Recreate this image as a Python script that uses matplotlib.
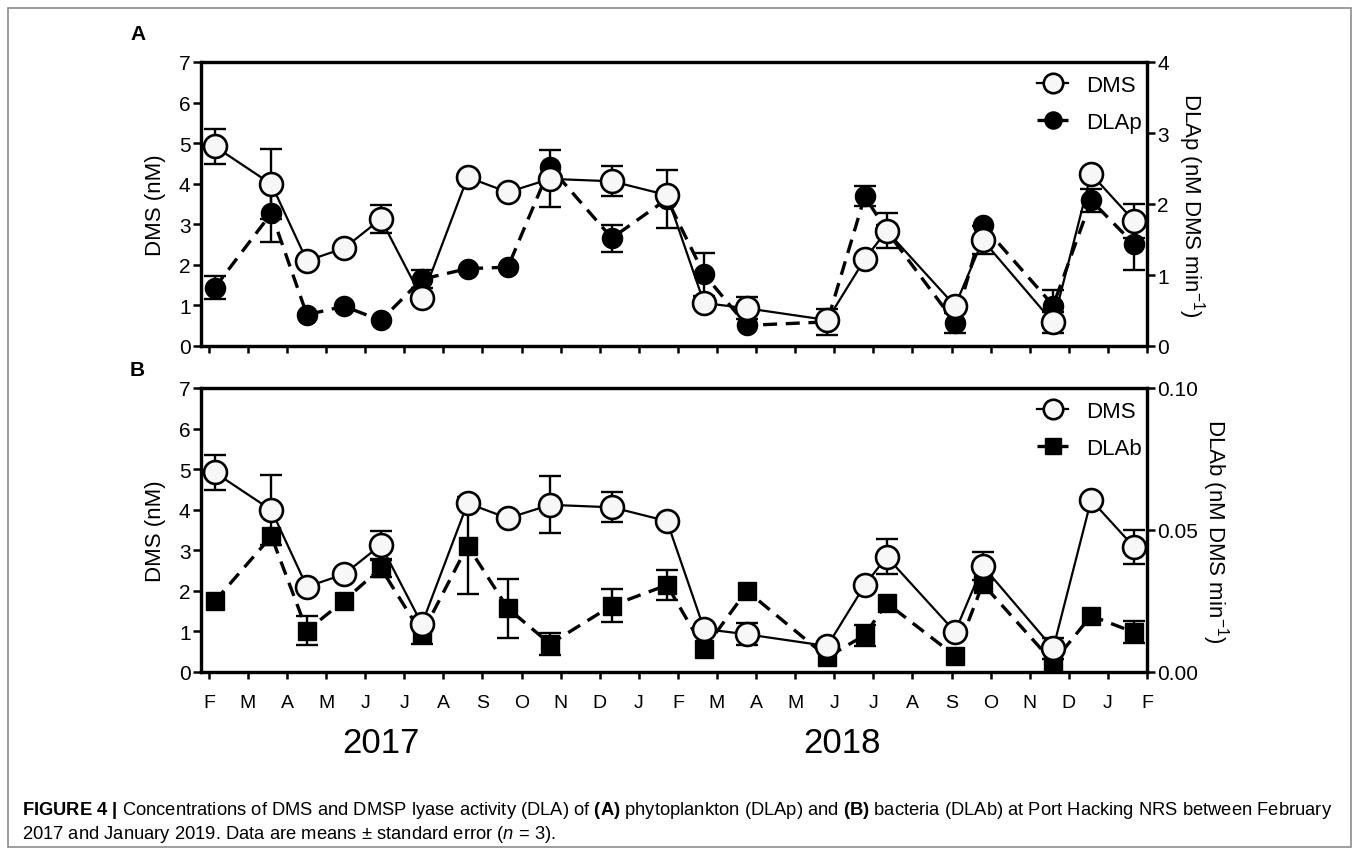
import matplotlib
matplotlib.use("Agg")
import matplotlib.pyplot as plt
from matplotlib.patches import Rectangle

plt.rcParams['font.family'] = ['Liberation Sans', 'DejaVu Sans']
plt.rcParams['mathtext.fontset'] = 'custom'
plt.rcParams['mathtext.rm'] = 'Liberation Sans'
plt.rcParams['mathtext.it'] = 'Liberation Sans:italic'
plt.rcParams['mathtext.bf'] = 'Liberation Sans:bold'

# month ticks, Feb 2017 .. Feb 2019
months = ["F", "M", "A", "M", "J", "J", "A", "S", "O", "N", "D", "J",
          "F", "M", "A", "M", "J", "J", "A", "S", "O", "N", "D", "J", "F"]

# sampling time in months after 1 Feb 2017
t = [0.15, 1.60, 2.51, 3.46, 4.40, 5.45, 6.62, 7.65, 8.73, 10.31, 11.72,
     12.67, 13.76, 15.82, 16.78, 17.34, 19.09, 19.80, 21.60, 22.57, 23.66]

dms = [4.92, 3.99, 2.10, 2.41, 3.13, 1.18, 4.16, 3.79, 4.12, 4.06, 3.72,
       1.06, 0.93, 0.64, 2.14, 2.84, 0.99, 2.61, 0.58, 4.24, 3.09]
dms_se = [0.44, 0.87, 0, 0, 0.34, 0, 0, 0, 0.70, 0.37, 0,
          0, 0.27, 0, 0, 0.43, 0, 0.35, 0.26, 0, 0.42]

dlap = [0.82, 1.87, 0.44, 0.56, 0.36, 0.94, 1.09, 1.11, 2.52, 1.52, 2.07,
        1.01, 0.29, 0.34, 2.11, 1.62, 0.33, 1.70, 0.57, 2.05, 1.44]
dlap_se = [0.16, 0.41, 0, 0, 0, 0.13, 0, 0, 0, 0.19, 0.41,
           0.30, 0, 0.18, 0.14, 0.08, 0.14, 0, 0.22, 0.16, 0.37]

dlab = [0.0249, 0.0478, 0.0146, 0.0251, 0.0366, 0.0134, 0.0445, 0.0224,
        0.0099, 0.0234, 0.0306, 0.0081, 0.0286, 0.0052, 0.0130, 0.0243,
        0.0057, 0.0310, 0.0034, 0.0198, 0.0140]
dlab_se = [0, 0, 0.005, 0, 0.003, 0.0035, 0.017, 0.0105, 0.004, 0.0058,
           0.0053, 0, 0, 0, 0.0037, 0, 0, 0, 0, 0, 0.0038]

W, H = 1358, 854
fig = plt.figure(figsize=(W / 100, H / 100), dpi=100)


def add_axes_px(left, top, right, bottom):
    return fig.add_axes([left / W, 1 - bottom / H, (right - left) / W, (bottom - top) / H])


def errbars(ax, x, y, se):
    pts = [(a, b, s) for a, b, s in zip(x, y, se) if s > 0]
    ax.errorbar([p[0] for p in pts], [p[1] for p in pts], yerr=[p[2] for p in pts],
                fmt='none', ecolor='black', elinewidth=1.7, capsize=8, capthick=1.7, zorder=1)


def panel(top, bottom, dla, dla_se, dla_marker, dla_ms, dla_lim, dla_ticks, dla_fmt,
          dla_label, dla_name, right_label_x, letter):
    ax = add_axes_px(201, top, 1147, bottom)
    ax2 = ax.twinx()
    # DMS on the host axes, kept above the twin
    ax.set_zorder(ax2.get_zorder() + 1)
    ax.patch.set_visible(False)

    errbars(ax2, t, dla, dla_se)
    h2, = ax2.plot(t, dla, color='black', lw=2.4, ls=(0, (4.2, 2.6)),
                   marker=dla_marker, ms=dla_ms, mfc='black', mec='black', zorder=3)
    errbars(ax, t, dms, dms_se)
    h1, = ax.plot(t, dms, color='black', lw=1.6, marker='o', ms=16.5,
                  mfc='#f7f7f7', mec='black', mew=1.9, zorder=3)

    ax.set_xlim(-0.2, 24)
    ax.set_xticks(range(len(months)))
    ax.set_ylim(0, 7)
    ax.set_yticks(range(8))
    ax2.set_ylim(*dla_lim)
    ax2.set_yticks(dla_ticks)
    ax2.set_yticklabels([dla_fmt.format(v) for v in dla_ticks])

    for a in (ax, ax2):
        for s in a.spines.values():
            s.set_linewidth(2.3)
        a.tick_params(axis='y', direction='out', length=6, width=1.8, labelsize=15, pad=1.5)
    ax.tick_params(axis='x', direction='out', length=5, width=1.8, labelsize=14, pad=11)

    ax.text(-0.0486, 0.5, 'DMS (nM)', rotation=90, ha='center', va='center',
            fontsize=16, transform=ax.transAxes)
    ax2.text(right_label_x, 0.5, dla_label, rotation=270, ha='center', va='center',
             fontsize=16, transform=ax2.transAxes)

    ax.legend([h1, h2], ['DMS', dla_name], loc='upper right', frameon=False,
              bbox_to_anchor=(1.004, 0.985), fontsize=16, handlelength=1.4,
              handletextpad=0.8, labelspacing=0.72, borderaxespad=0, markerscale=0.85)

    fig.text(130 / W, 1 - 35 / H if letter == 'A' else 1 - 370 / H, letter,
             fontsize=15, fontweight='bold', ha='left', va='center')
    return ax


axA = panel(63, 347, dlap, dlap_se, 'o', 14.5, (0, 4), [0, 1, 2, 3, 4], '{:d}',
            'DLAp (nM DMS min$^{-1}$)', 'DLAp', 1.047, 'A')
axA.set_xticklabels([])

axB = panel(389, 673, dlab, dlab_se, 's', 13, (0, 0.1), [0.0, 0.05, 0.10], '{:.2f}',
            'DLAb (nM DMS min$^{-1}$)', 'DLAb', 1.072, 'B')
axB.set_xticklabels(months)

fig.text(381 / W, 1 - 744 / H, '2017', fontsize=25, ha='center', va='center')
fig.text(842 / W, 1 - 744 / H, '2018', fontsize=25, ha='center', va='center')

cap1 = (r'$\mathbf{FIGURE\ 4\ |}$ Concentrations of DMS and DMSP lyase activity (DLA) of '
        r'$\mathbf{(A)}$ phytoplankton (DLAp) and $\mathbf{(B)}$ bacteria (DLAb) at Port '
        r'Hacking NRS between February')
cap2 = r'2017 and January 2019. Data are means $\pm$ standard error ($\mathit{n}$ = 3).'
c1 = fig.text(22 / W, 1 - 811 / H, cap1, fontsize=12, ha='left', va='center')
c2 = fig.text(22 / W, 1 - 835 / H, cap2, fontsize=12, ha='left', va='center')
# fit the first caption line to the frame width
r = fig.canvas.get_renderer()
fs = 12 * 1305 / c1.get_window_extent(renderer=r).width
c1.set_fontsize(fs)
c2.set_fontsize(fs)

fig.patches.append(Rectangle((8 / W, 1 - 848 / H), (1351 - 8) / W, (848 - 9) / H,
                             transform=fig.transFigure, fill=False,
                             edgecolor='#8c8c8c', lw=1.2))

fig.savefig('out.png', dpi=100)
